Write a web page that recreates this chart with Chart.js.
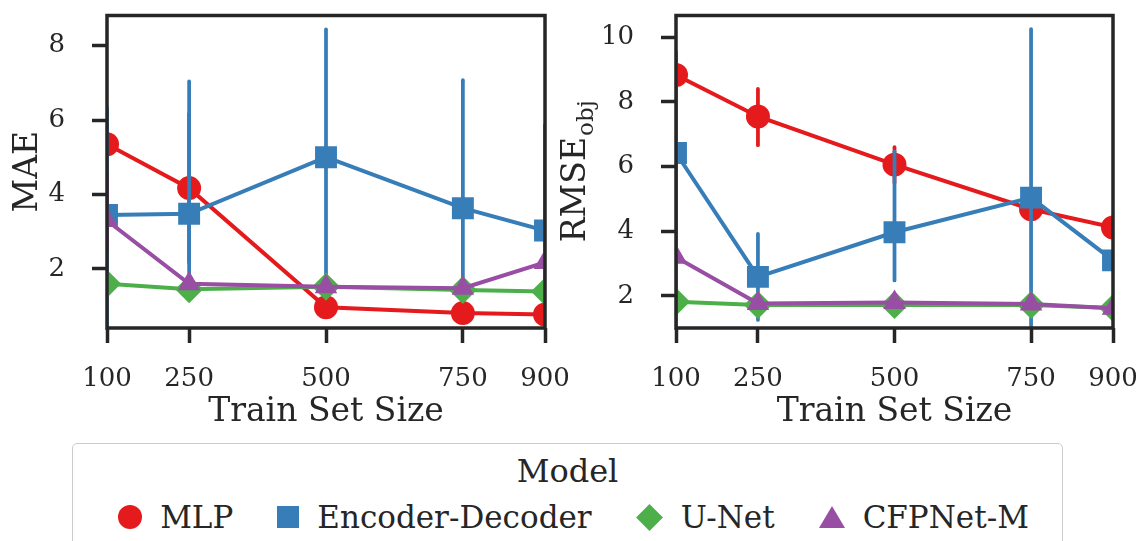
<!DOCTYPE html>
<html lang="en">
<head>
  <meta charset="UTF-8">
  <title>MAE / RMSE vs train set size</title>
  <script src="https://cdn.jsdelivr.net/npm/chart.js"></script>
  <style>
    body { margin: 0; background: #fff; }
    #wrap { position: relative; width: 1138px; height: 541px; overflow: hidden; background: #fff; }
    #wrap canvas { position: absolute; top: 0; }
    #c1 { left: 0; }
    #c2 { left: 548px; }
    #legend {
      position: absolute; left: 72px; top: 443px; width: 989px; height: 120px;
      border: 1px solid #cccccc; border-radius: 5px; background: #fff;
      font-family: "DejaVu Serif", serif; color: #262626;
    }
    #legend .title { text-align: center; font-size: 32px; line-height: 40px; margin-top: 7px; }
    #legend .row { display: flex; justify-content: center; align-items: center; margin-top: 6px; padding-left: 12px; }
    #legend .item { display: flex; align-items: center; margin: 0 22px; font-size: 31px; line-height: 40px; }
    #legend .mk { margin-right: 18px; }
  </style>
  <script>
    addEventListener("DOMContentLoaded", init);

    const trainSizes = [100, 250, 500, 750, 900];
    const maeTicks = [2, 4, 6, 8];
    const rmseTicks = [2, 4, 6, 8, 10];

    const models = ["MLP", "Encoder-Decoder", "U-Net", "CFPNet-M"];
    const colors = ["#e41a1c", "#377eb8", "#4daf4a", "#984ea3"];
    const markers = ["circle", "rect", "rectRot", "triangle"];
    const markerRadius = [12, 15.5, 14, 13];

    // MAE panel
    const maeMLP = [5.35, 4.17, 0.97, 0.81, 0.77];
    const maeMLPLow = [null, 2.17, null, null, null];
    const maeMLPHigh = [null, 6.17, null, null, null];
    const maeED = [3.45, 3.48, 5.0, 3.63, 3.03];
    const maeEDLow = [0.3, 1.9, 1.65, 1.6, 0.3];
    const maeEDHigh = [6.33, 7.04, 8.44, 7.07, 5.87];
    const maeUNet = [1.6, 1.45, 1.52, 1.43, 1.39];
    const maeCFP = [3.3, 1.6, 1.52, 1.48, 2.17];
    const maeCFPLow = [2.5, null, null, null, null];
    const maeCFPHigh = [4.54, null, null, null, null];

    // RMSE_obj panel
    const rmseMLP = [8.83, 7.55, 6.06, 4.68, 4.12];
    const rmseMLPLow = [null, 6.66, 5.5, null, null];
    const rmseMLPHigh = [null, 8.4, 6.6, null, null];
    const rmseED = [6.42, 2.59, 3.97, 5.04, 3.1];
    const rmseEDLow = [3.3, 1.26, 2.48, 0.0, null];
    const rmseEDHigh = [9.54, 3.92, 6.47, 10.25, null];
    const rmseUNet = [1.82, 1.72, 1.72, 1.72, 1.63];
    const rmseCFP = [3.2, 1.77, 1.8, 1.75, 1.62];
    const rmseCFPLow = [0.2, null, null, null, null];
    const rmseCFPHigh = [6.17, null, null, null, null];

    const ink = "#262626";
    const serif = "'DejaVu Serif', serif";

    // vertical error bars, drawn just before each dataset so overlap order follows the series
    const errorBars = {
      id: "errorBars",
      beforeDatasetDraw(chart, args) {
        const ds = chart.data.datasets[args.index];
        if (!ds.errLow) return;
        const {ctx, chartArea, scales} = chart;
        ctx.save();
        ctx.beginPath();
        ctx.rect(chartArea.left, chartArea.top, chartArea.right - chartArea.left, chartArea.bottom - chartArea.top);
        ctx.clip();
        ctx.strokeStyle = ds.borderColor;
        ctx.lineWidth = 3.75;
        ctx.lineCap = "round";
        ds.data.forEach((p, i) => {
          if (ds.errLow[i] == null) return;
          const x = scales.x.getPixelForValue(p.x);
          ctx.beginPath();
          ctx.moveTo(x, scales.y.getPixelForValue(ds.errLow[i]));
          ctx.lineTo(x, scales.y.getPixelForValue(ds.errHigh[i]));
          ctx.stroke();
        });
        ctx.restore();
      }
    };

    // full box frame + rotated y label with optional subscript
    const frame = {
      id: "frame",
      afterDatasetsDraw(chart) {
        const {ctx, chartArea: a} = chart;
        ctx.save();
        ctx.strokeStyle = ink;
        ctx.lineWidth = 3.5;
        ctx.strokeRect(a.left, a.top, a.right - a.left, a.bottom - a.top);
        ctx.restore();
      },
      afterDraw(chart) {
        const lab = chart.options.plugins.frame.yLabel;
        const {ctx, chartArea: a} = chart;
        ctx.save();
        ctx.fillStyle = ink;
        ctx.textBaseline = "alphabetic";
        ctx.translate(37, (a.top + a.bottom) / 2);
        ctx.rotate(-Math.PI / 2);
        ctx.font = "33px " + serif;
        const w1 = ctx.measureText(lab.main).width;
        let w2 = 0;
        if (lab.sub) {
          ctx.font = "23px " + serif;
          w2 = ctx.measureText(lab.sub).width;
        }
        const x0 = -(w1 + w2) / 2;
        ctx.font = "33px " + serif;
        ctx.fillText(lab.main, x0, 0);
        if (lab.sub) {
          ctx.font = "23px " + serif;
          ctx.fillText(lab.sub, x0 + w1 + 1, 8);
        }
        ctx.restore();
      }
    };

    function series(vals, i, low, high) {
      return {
        label: models[i],
        data: trainSizes.map((x, k) => ({x: x, y: vals[k]})),
        borderColor: colors[i],
        backgroundColor: colors[i],
        borderWidth: 4,
        pointStyle: markers[i],
        pointRadius: markerRadius[i],
        pointBorderWidth: 0,
        pointHoverRadius: markerRadius[i],
        tension: 0,
        clip: 0,
        order: 3 - i,
        errLow: low || null,
        errHigh: high || null
      };
    }

    function makeChart(canvas, datasets, yMin, yMax, yTicks, yLabel, yWidth) {
      return new Chart(canvas, {
        type: "line",
        data: {datasets: datasets},
        plugins: [errorBars, frame],
        options: {
          responsive: false,
          animation: false,
          events: [],
          layout: {padding: {top: 13, right: 25, left: 0, bottom: 0}},
          plugins: {
            legend: {display: false},
            tooltip: {enabled: false},
            frame: {yLabel: yLabel}
          },
          scales: {
            x: {
              type: "linear",
              min: 100,
              max: 900,
              afterBuildTicks: s => { s.ticks = trainSizes.map(v => ({value: v})); },
              afterFit: s => { s.height = 112; s.paddingLeft = 0; s.paddingRight = 0; },
              border: {display: false},
              grid: {drawOnChartArea: false, drawTicks: true, tickLength: 15, tickWidth: 3.5, tickColor: ink},
              ticks: {color: ink, font: {family: serif, size: 26}, padding: 21, maxRotation: 0, autoSkip: false},
              title: {display: true, text: "Train Set Size", color: ink, font: {family: serif, size: 33, lineHeight: 1.2}, padding: {top: 0, bottom: 8}}
            },
            y: {
              min: yMin,
              max: yMax,
              afterBuildTicks: s => { s.ticks = yTicks.map(v => ({value: v})); },
              afterFit: s => { s.width = yWidth; s.paddingTop = 0; s.paddingBottom = 0; },
              border: {display: false},
              grid: {drawOnChartArea: false, drawTicks: true, tickLength: 15, tickWidth: 3.5, tickColor: ink},
              ticks: {color: ink, font: {family: serif, size: 26}, padding: 27}
            }
          }
        }
      });
    }

    function init() {
      makeChart(document.getElementById("c1"), [
        series(maeMLP, 0, maeMLPLow, maeMLPHigh),
        series(maeED, 1, maeEDLow, maeEDHigh),
        series(maeUNet, 2),
        series(maeCFP, 3, maeCFPLow, maeCFPHigh)
      ], 0.41, 8.81, maeTicks, {main: "MAE", sub: ""}, 107);

      makeChart(document.getElementById("c2"), [
        series(rmseMLP, 0, rmseMLPLow, rmseMLPHigh),
        series(rmseED, 1, rmseEDLow, rmseEDHigh),
        series(rmseUNet, 2),
        series(rmseCFP, 3, rmseCFPLow, rmseCFPHigh)
      ], 1.01, 10.67, rmseTicks, {main: "RMSE", sub: "obj"}, 128);

      // legend built from the same model / colour lists
      const shapes = [
        c => `<span class="mk" style="display:inline-block;width:24px;height:24px;border-radius:50%;background:${c}"></span>`,
        c => `<span class="mk" style="display:inline-block;width:22px;height:22px;background:${c}"></span>`,
        c => `<span class="mk" style="display:inline-block;width:19px;height:19px;background:${c};transform:rotate(45deg);margin-left:4px;margin-right:22px"></span>`,
        c => `<span class="mk" style="display:inline-block;width:0;height:0;border-left:13px solid transparent;border-right:13px solid transparent;border-bottom:22px solid ${c}"></span>`
      ];
      const row = document.querySelector("#legend .row");
      row.innerHTML = models.map((m, i) => `<span class="item">${shapes[i](colors[i])}<span>${m}</span></span>`).join("");
    }
  </script>
</head>
<body>
  <div id="wrap">
    <canvas id="c1" width="570" height="440"></canvas>
    <canvas id="c2" width="590" height="440"></canvas>
    <div id="legend">
      <div class="title">Model</div>
      <div class="row"></div>
    </div>
  </div>
</body>
</html>
